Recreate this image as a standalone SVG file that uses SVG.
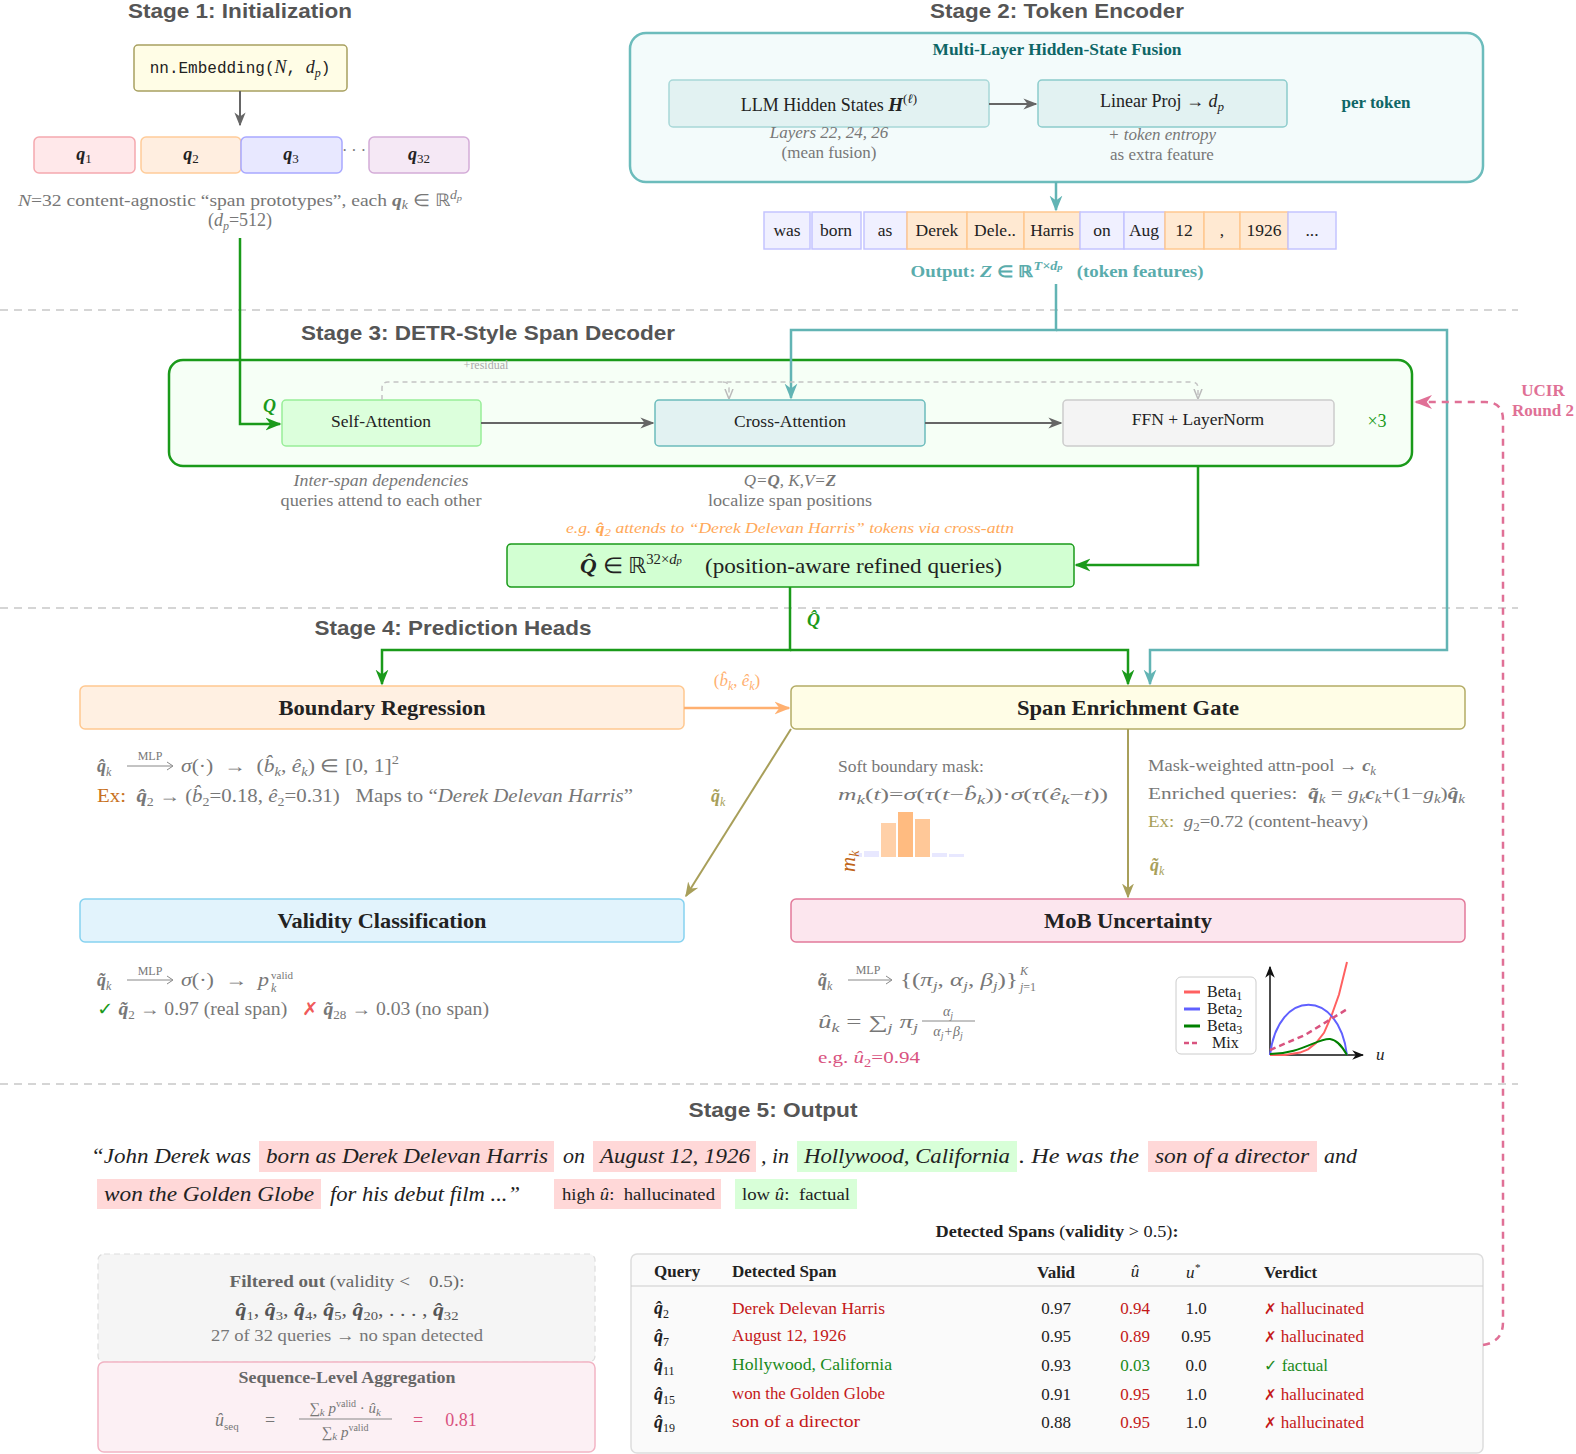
<svg xmlns="http://www.w3.org/2000/svg" width="1576" height="1454" viewBox="0 0 1576 1454">
<style>
.title{font-family:"Liberation Sans",Arial,sans-serif;font-weight:bold;font-size:21px;fill:#555;text-anchor:middle}
.s{font-family:"Liberation Serif","Times New Roman",serif}
.g{fill:#777}
.dk{fill:#222}
.c{text-anchor:middle}
.it{font-style:italic}
.b{font-weight:bold}
.bi{font-weight:bold;font-style:italic}
.sym{font-family:"DejaVu Sans",sans-serif}
.sep{stroke:#c8c8c8;stroke-width:1.5;stroke-dasharray:8,6;fill:none}
.gray{stroke:#666;stroke-width:2;fill:none}
.grn{stroke:#1a9a1a;stroke-width:2.5;fill:none}
.teal{stroke:#62b4b4;stroke-width:2.5;fill:none}
.olv{stroke:#a89f5a;stroke-width:2;fill:none}
.org{stroke:#ffb070;stroke-width:2.5;fill:none}
.pnk{stroke:#e07096;stroke-width:2.5;stroke-dasharray:7,6;fill:none}
.res{stroke:#c4c4c4;stroke-width:1.5;stroke-dasharray:5,4;fill:none}
</style>
<defs>
<marker id="mGray" markerUnits="userSpaceOnUse" viewBox="0 0 10 10" refX="9" refY="5" markerWidth="14" markerHeight="14" orient="auto"><path d="M0,1 L10,5 L0,9 L3,5 z" fill="#666"/></marker>
<marker id="mGrn" markerUnits="userSpaceOnUse" viewBox="0 0 10 10" refX="9" refY="5" markerWidth="16" markerHeight="16" orient="auto"><path d="M0,1 L10,5 L0,9 L3,5 z" fill="#1a9a1a"/></marker>
<marker id="mTeal" markerUnits="userSpaceOnUse" viewBox="0 0 10 10" refX="9" refY="5" markerWidth="16" markerHeight="16" orient="auto"><path d="M0,1 L10,5 L0,9 L3,5 z" fill="#62b4b4"/></marker>
<marker id="mOlv" markerUnits="userSpaceOnUse" viewBox="0 0 10 10" refX="9" refY="5" markerWidth="15" markerHeight="15" orient="auto"><path d="M0,1 L10,5 L0,9 L3,5 z" fill="#a89f5a"/></marker>
<marker id="mOrg" markerUnits="userSpaceOnUse" viewBox="0 0 10 10" refX="9" refY="5" markerWidth="16" markerHeight="16" orient="auto"><path d="M0,1 L10,5 L0,9 L3,5 z" fill="#ffb070"/></marker>
<marker id="mPnk" markerUnits="userSpaceOnUse" viewBox="0 0 10 10" refX="9" refY="5" markerWidth="18" markerHeight="18" orient="auto"><path d="M0,1 L10,5 L0,9 L3,5 z" fill="#e07096"/></marker>
<marker id="mRes" markerUnits="userSpaceOnUse" viewBox="0 0 10 10" refX="9" refY="5" markerWidth="10" markerHeight="10" orient="auto"><path d="M0,1 L10,5 L0,9" fill="none" stroke="#bbb" stroke-width="1.5"/></marker>
<marker id="mBlk" markerUnits="userSpaceOnUse" viewBox="0 0 10 10" refX="9" refY="5" markerWidth="12" markerHeight="12" orient="auto"><path d="M0,1 L10,5 L0,9 L3,5 z" fill="#111"/></marker>
</defs>
<rect width="1576" height="1454" fill="#fff"/>

<g id="separators">
<line class="sep" x1="0" y1="310" x2="1518" y2="310"/>
<line class="sep" x1="0" y1="608" x2="1518" y2="608"/>
<line class="sep" x1="0" y1="1084" x2="1518" y2="1084"/>
</g>

<g id="titles">
<text class="title" x="240" y="18" textLength="224" lengthAdjust="spacingAndGlyphs">Stage 1: Initialization</text>
<text class="title" x="1057" y="18" textLength="254" lengthAdjust="spacingAndGlyphs">Stage 2: Token Encoder</text>
<text class="title" x="488" y="340" textLength="374" lengthAdjust="spacingAndGlyphs">Stage 3: DETR-Style Span Decoder</text>
<text class="title" x="453" y="635" textLength="277" lengthAdjust="spacingAndGlyphs">Stage 4: Prediction Heads</text>
<text class="title" x="773" y="1117" textLength="169" lengthAdjust="spacingAndGlyphs">Stage 5: Output</text>
</g>

<!-- Stage 1 -->
<g id="embedding">
<rect x="134" y="45" width="213" height="46" rx="4" fill="#fffde6" stroke="#a8a060" stroke-width="1.5"/>
<text x="240" y="73" class="c" font-family="Liberation Mono,monospace" font-size="16" fill="#222">nn.Embedding(<tspan class="s it" font-size="18">N</tspan>, <tspan class="s it" font-size="18">d</tspan><tspan class="s it" font-size="12" baseline-shift="-4">p</tspan>)</text>
</g>
<g id="q1"><rect x="34" y="137" width="101" height="36" rx="5" fill="#ffe8ea" stroke="#f5a8ae" stroke-width="1.5"/><text x="84" y="160" class="s c dk"><tspan class="bi" font-size="18">q</tspan><tspan font-size="13" baseline-shift="-3">1</tspan></text></g>
<g id="q2"><rect x="141" y="137" width="100" height="36" rx="5" fill="#ffeee0" stroke="#ffcc99" stroke-width="1.5"/><text x="191" y="160" class="s c dk"><tspan class="bi" font-size="18">q</tspan><tspan font-size="13" baseline-shift="-3">2</tspan></text></g>
<g id="q3"><rect x="241" y="137" width="101" height="36" rx="5" fill="#e8e8ff" stroke="#a8a8ff" stroke-width="1.5"/><text x="291" y="160" class="s c dk"><tspan class="bi" font-size="18">q</tspan><tspan font-size="13" baseline-shift="-3">3</tspan></text></g>
<text x="354" y="156" class="s c g" font-size="16">· · ·</text>
<g id="q32"><rect x="369" y="137" width="100" height="36" rx="5" fill="#f5e8f5" stroke="#d4acd8" stroke-width="1.5"/><text x="419" y="160" class="s c dk"><tspan class="bi" font-size="18">q</tspan><tspan font-size="13" baseline-shift="-3">32</tspan></text></g>
<g id="s1caption">
<text x="240" y="206" class="s c g" font-size="17" textLength="444" lengthAdjust="spacingAndGlyphs"><tspan class="it">N</tspan>=32 content-agnostic “span prototypes”, each <tspan class="bi">q</tspan><tspan class="it" font-size="12" baseline-shift="-3">k</tspan> ∈ ℝ<tspan class="it" font-size="12" baseline-shift="7">d</tspan><tspan class="it" font-size="9" baseline-shift="5">p</tspan></text>
<text x="240" y="226" class="s c g" font-size="18">(<tspan class="it">d</tspan><tspan class="it" font-size="12" baseline-shift="-4">p</tspan>=512)</text>
</g>

<!-- Stage 2 -->
<g id="encoder">
<rect x="630" y="33" width="853" height="149" rx="16" fill="#f3fbfb" stroke="#6cbcbc" stroke-width="2.5"/>
<text x="1057" y="55" class="s c b" font-size="16" fill="#0e6666" textLength="249" lengthAdjust="spacingAndGlyphs">Multi-Layer Hidden-State Fusion</text>
<text x="1376" y="108" class="s c b" font-size="17" fill="#0e6666">per token</text>
</g>
<g id="llm">
<rect x="669" y="80" width="320" height="47" rx="4" fill="#e2f2f2" stroke="#a8d8d8" stroke-width="1.5"/>
<text x="829" y="111" class="s c dk" font-size="18">LLM Hidden States <tspan class="bi" font-size="19">H</tspan><tspan font-size="13" baseline-shift="8">(<tspan class="it">ℓ</tspan>)</tspan></text>
<text x="829" y="138" class="s c g it" font-size="17">Layers 22, 24, 26</text>
<text x="829" y="158" class="s c g" font-size="17">(mean fusion)</text>
</g>
<g id="linproj">
<rect x="1038" y="80" width="249" height="47" rx="4" fill="#e2f2f2" stroke="#8ccccc" stroke-width="1.5"/>
<text x="1162" y="107" class="s c dk" font-size="18">Linear Proj → <tspan class="it" font-size="18">d</tspan><tspan class="it" font-size="13" baseline-shift="-4">p</tspan></text>
<text x="1162" y="140" class="s c g it" font-size="17">+ token entropy</text>
<text x="1162" y="160" class="s c g" font-size="17">as extra feature</text>
</g>
<g id="tokens" font-family="Liberation Serif,serif" font-size="17.5" fill="#222" text-anchor="middle">
<rect x="764" y="212" width="46" height="37" fill="#f0f0ff" stroke="#c4c4ff" stroke-width="1.5"/><text x="787" y="236">was</text>
<rect x="812" y="212" width="49" height="37" fill="#f0f0ff" stroke="#c4c4ff" stroke-width="1.5"/><text x="836" y="236">born</text>
<rect x="864" y="212" width="43" height="37" fill="#f0f0ff" stroke="#c4c4ff" stroke-width="1.5"/><text x="885" y="236">as</text>
<rect x="907" y="212" width="60" height="37" fill="#ffe9d2" stroke="#ffc890" stroke-width="1.5"/><text x="937" y="236">Derek</text>
<rect x="967" y="212" width="57" height="37" fill="#ffe9d2" stroke="#ffc890" stroke-width="1.5"/><text x="995" y="236">Dele..</text>
<rect x="1024" y="212" width="56" height="37" fill="#ffe9d2" stroke="#ffc890" stroke-width="1.5"/><text x="1052" y="236">Harris</text>
<rect x="1080" y="212" width="44" height="37" fill="#f0f0ff" stroke="#c4c4ff" stroke-width="1.5"/><text x="1102" y="236">on</text>
<rect x="1124" y="212" width="41" height="37" fill="#f0f0ff" stroke="#c4c4ff" stroke-width="1.5"/><text x="1144" y="236">Aug</text>
<rect x="1165" y="212" width="39" height="37" fill="#ffe9d2" stroke="#ffc890" stroke-width="1.5"/><text x="1184" y="236">12</text>
<rect x="1204" y="212" width="36" height="37" fill="#ffe9d2" stroke="#ffc890" stroke-width="1.5"/><text x="1222" y="236">,</text>
<rect x="1240" y="212" width="48" height="37" fill="#ffe9d2" stroke="#ffc890" stroke-width="1.5"/><text x="1264" y="236">1926</text>
<rect x="1288" y="212" width="48" height="37" fill="#f0f0ff" stroke="#c4c4ff" stroke-width="1.5"/><text x="1312" y="236">...</text>
</g>
<text x="1057" y="277" class="s c b" font-size="16" fill="#5aacac" textLength="293" lengthAdjust="spacingAndGlyphs" xml:space="preserve">Output: <tspan class="bi" font-size="17">Z</tspan> ∈ ℝ<tspan class="it" font-size="12" baseline-shift="7">T×d<tspan font-size="9">p</tspan></tspan>   (token features)</text>

<!-- Stage 3 -->
<g id="decoder">
<rect x="169" y="360" width="1243" height="106" rx="14" fill="#f6fff6" stroke="#1a9a1a" stroke-width="2.5"/>
<text x="486" y="369" class="s c" font-size="12" fill="#aaa">+residual</text>
<text x="1377" y="427" class="s c" font-size="18" fill="#1a9a1a">×3</text>
</g>
<g id="selfattn">
<rect x="282" y="400" width="199" height="46" rx="4" fill="#dcffdc" stroke="#98ee98" stroke-width="1.5"/>
<text x="381" y="427" class="s c dk" font-size="17.5">Self-Attention</text>
<text x="381" y="486" class="s c g it" font-size="17" textLength="175" lengthAdjust="spacingAndGlyphs">Inter-span dependencies</text>
<text x="381" y="506" class="s c g" font-size="17" textLength="201" lengthAdjust="spacingAndGlyphs">queries attend to each other</text>
</g>
<g id="crossattn">
<rect x="655" y="400" width="270" height="46" rx="4" fill="#e2f2f2" stroke="#6cbcbc" stroke-width="1.5"/>
<text x="790" y="427" class="s c dk" font-size="17.5">Cross-Attention</text>
<text x="790" y="486" class="s c g it" font-size="17">Q=<tspan class="bi">Q</tspan>, K,V=<tspan class="bi">Z</tspan></text>
<text x="790" y="506" class="s c g" font-size="17" textLength="164" lengthAdjust="spacingAndGlyphs">localize span positions</text>
</g>
<g id="ffn">
<rect x="1063" y="400" width="271" height="46" rx="4" fill="#f4f4f4" stroke="#ccc" stroke-width="1.5"/>
<text x="1198" y="425" class="s c dk" font-size="17.5">FFN + LayerNorm</text>
</g>
<text x="790" y="533" class="s c it" font-size="15" fill="#ffa858" textLength="448" lengthAdjust="spacingAndGlyphs">e.g. <tspan class="b">q̂</tspan><tspan font-size="11" baseline-shift="-3">2</tspan> attends to “Derek Delevan Harris” tokens via cross-attn</text>
<g id="qhat">
<rect x="507" y="544" width="567" height="43" rx="4" fill="#d2ffd2" stroke="#1a9a1a" stroke-width="1.5"/>
<text x="791" y="573" class="s c dk" font-size="22" textLength="422" lengthAdjust="spacingAndGlyphs" xml:space="preserve"><tspan class="bi">Q̂</tspan> ∈ ℝ<tspan font-size="14" baseline-shift="9">32×<tspan class="it">d</tspan><tspan class="it" font-size="10">p</tspan></tspan>    (position-aware refined queries)</text>
</g>

<!-- Stage 4 -->
<g id="boundary">
<rect x="80" y="686" width="604" height="43" rx="5" fill="#fff0e2" stroke="#ffc890" stroke-width="1.5"/>
<text x="382" y="715" class="s c b dk" font-size="22" textLength="207" lengthAdjust="spacingAndGlyphs">Boundary Regression</text>
<text x="97" y="772" class="s g" font-size="18"><tspan class="bi">q̂</tspan><tspan class="it" font-size="12" baseline-shift="-4">k</tspan></text>
<text x="150" y="760" class="s c g" font-size="12">MLP</text>
<line x1="127" y1="766" x2="172" y2="766" stroke="#888" stroke-width="1"/><path d="M167,762 L173,766 L167,770" fill="none" stroke="#888" stroke-width="1"/>
<text x="181" y="772" class="s g" font-size="18" textLength="218" lengthAdjust="spacingAndGlyphs" xml:space="preserve"><tspan class="it">σ</tspan>(·)  →  (<tspan class="it">b̂</tspan><tspan class="it" font-size="12" baseline-shift="-4">k</tspan>, <tspan class="it">ê</tspan><tspan class="it" font-size="12" baseline-shift="-4">k</tspan>) ∈ [0, 1]<tspan font-size="12" baseline-shift="8">2</tspan></text>
<text x="97" y="802" class="s g" font-size="18" textLength="536" lengthAdjust="spacingAndGlyphs" xml:space="preserve"><tspan fill="#c87020">Ex:</tspan>  <tspan class="bi">q̂</tspan><tspan font-size="12" baseline-shift="-4">2</tspan> → (<tspan class="it">b̂</tspan><tspan font-size="12" baseline-shift="-4">2</tspan>=0.18, <tspan class="it">ê</tspan><tspan font-size="12" baseline-shift="-4">2</tspan>=0.31)   Maps to “<tspan class="it">Derek Delevan Harris</tspan>”</text>
</g>
<g id="seg">
<rect x="791" y="686" width="674" height="43" rx="5" fill="#fffde6" stroke="#b4ac66" stroke-width="1.5"/>
<text x="1128" y="715" class="s c b dk" font-size="22" textLength="222" lengthAdjust="spacingAndGlyphs">Span Enrichment Gate</text>
<text x="838" y="772" class="s g" font-size="17.5">Soft boundary mask:</text>
<text x="838" y="800" class="s g" font-size="16" textLength="270" lengthAdjust="spacingAndGlyphs"><tspan class="it">m</tspan><tspan class="it" font-size="12" baseline-shift="-4">k</tspan>(<tspan class="it">t</tspan>)=<tspan class="it">σ</tspan>(<tspan class="it">τ</tspan>(<tspan class="it">t</tspan>−<tspan class="it">b̂</tspan><tspan class="it" font-size="12" baseline-shift="-4">k</tspan>))·<tspan class="it">σ</tspan>(<tspan class="it">τ</tspan>(<tspan class="it">ê</tspan><tspan class="it" font-size="12" baseline-shift="-4">k</tspan>−<tspan class="it">t</tspan>))</text>
<g id="maskbars">
<rect x="856" y="853" width="6" height="4" fill="#e8e8ff"/>
<rect x="864" y="851" width="15" height="6" fill="#e8e8ff"/>
<rect x="881" y="823" width="15" height="34" fill="#ffd0a8"/>
<rect x="898" y="812" width="15" height="45" fill="#ffbb80"/>
<rect x="915" y="819" width="15" height="38" fill="#ffc898"/>
<rect x="932" y="853" width="15" height="4" fill="#e8e8ff"/>
<rect x="949" y="854" width="15" height="3" fill="#e8e8ff"/>
<text transform="translate(855,872) rotate(-90)" class="s it" font-size="21" fill="#c06418">m<tspan font-size="14" baseline-shift="-4">k</tspan></text>
</g>
<text x="1148" y="771" class="s g" font-size="17.5" textLength="228" lengthAdjust="spacingAndGlyphs">Mask-weighted attn-pool → <tspan class="bi">c</tspan><tspan class="it" font-size="12" baseline-shift="-4">k</tspan></text>
<text x="1148" y="799" class="s g" font-size="17" textLength="317" lengthAdjust="spacingAndGlyphs" xml:space="preserve">Enriched queries:  <tspan class="bi">q̃</tspan><tspan class="it" font-size="12" baseline-shift="-4">k</tspan> = <tspan class="it">g</tspan><tspan class="it" font-size="12" baseline-shift="-4">k</tspan><tspan class="bi">c</tspan><tspan class="it" font-size="12" baseline-shift="-4">k</tspan>+(1−<tspan class="it">g</tspan><tspan class="it" font-size="12" baseline-shift="-4">k</tspan>)<tspan class="bi">q̂</tspan><tspan class="it" font-size="12" baseline-shift="-4">k</tspan></text>
<text x="1148" y="827" class="s g" font-size="17.5" textLength="220" lengthAdjust="spacingAndGlyphs" xml:space="preserve"><tspan fill="#a89f5a">Ex:</tspan>  <tspan class="it">g</tspan><tspan font-size="12" baseline-shift="-4">2</tspan>=0.72 (content-heavy)</text>
</g>
<g id="validity">
<rect x="80" y="899" width="604" height="43" rx="5" fill="#e2f3fc" stroke="#86d2f0" stroke-width="1.5"/>
<text x="382" y="928" class="s c b dk" font-size="22" textLength="209" lengthAdjust="spacingAndGlyphs">Validity Classification</text>
<text x="97" y="986" class="s g" font-size="18"><tspan class="bi">q̃</tspan><tspan class="it" font-size="12" baseline-shift="-4">k</tspan></text>
<text x="150" y="975" class="s c g" font-size="12">MLP</text>
<line x1="127" y1="980" x2="172" y2="980" stroke="#888" stroke-width="1"/><path d="M167,976 L173,980 L167,984" fill="none" stroke="#888" stroke-width="1"/>
<text x="181" y="986" class="s g" font-size="18" textLength="88" lengthAdjust="spacingAndGlyphs" xml:space="preserve"><tspan class="it">σ</tspan>(·)  →  <tspan class="it">p</tspan></text>
<text x="271" y="979" class="s g" font-size="11">valid</text>
<text x="271" y="992" class="s g it" font-size="12">k</text>
<text x="97" y="1015" class="s g" font-size="18" textLength="392" lengthAdjust="spacingAndGlyphs" xml:space="preserve"><tspan class="sym" fill="#1a9a1a">✓</tspan> <tspan class="bi">q̃</tspan><tspan font-size="12" baseline-shift="-4">2</tspan> → 0.97 (real span)   <tspan class="sym" fill="#f05a5a">✗</tspan> <tspan class="bi">q̃</tspan><tspan font-size="12" baseline-shift="-4">28</tspan> → 0.03 (no span)</text>
</g>
<g id="mob">
<rect x="791" y="899" width="674" height="43" rx="5" fill="#fce6ee" stroke="#e27a9a" stroke-width="1.5"/>
<text x="1128" y="928" class="s c b dk" font-size="22" textLength="168" lengthAdjust="spacingAndGlyphs">MoB Uncertainty</text>
<text x="818" y="986" class="s g" font-size="18"><tspan class="bi">q̃</tspan><tspan class="it" font-size="12" baseline-shift="-4">k</tspan></text>
<text x="868" y="974" class="s c g" font-size="12">MLP</text>
<line x1="848" y1="980" x2="891" y2="980" stroke="#888" stroke-width="1"/><path d="M886,976 L892,980 L886,984" fill="none" stroke="#888" stroke-width="1"/>
<text x="900" y="986" class="s g" font-size="18" textLength="118" lengthAdjust="spacingAndGlyphs">{(<tspan class="it">π</tspan><tspan class="it" font-size="12" baseline-shift="-4">j</tspan>, <tspan class="it">α</tspan><tspan class="it" font-size="12" baseline-shift="-4">j</tspan>, <tspan class="it">β</tspan><tspan class="it" font-size="12" baseline-shift="-4">j</tspan>)}</text>
<text x="1020" y="975" class="s g it" font-size="12">K</text>
<text x="1020" y="991" class="s g" font-size="12"><tspan class="it">j</tspan>=1</text>
<text x="818" y="1028" class="s g" font-size="18" textLength="100" lengthAdjust="spacingAndGlyphs" xml:space="preserve"><tspan class="it">û</tspan><tspan class="it" font-size="12" baseline-shift="-4">k</tspan> = ∑<tspan class="it" font-size="12" baseline-shift="-4">j</tspan> <tspan class="it">π</tspan><tspan class="it" font-size="12" baseline-shift="-4">j</tspan></text>
<text x="948" y="1016" class="s c g it" font-size="14">α<tspan font-size="10" baseline-shift="-3">j</tspan></text>
<line x1="922" y1="1021" x2="975" y2="1021" stroke="#888" stroke-width="1"/>
<text x="948" y="1036" class="s c g it" font-size="14">α<tspan font-size="10" baseline-shift="-3">j</tspan>+β<tspan font-size="10" baseline-shift="-3">j</tspan></text>
<text x="818" y="1063" class="s" font-size="17.5" fill="#d9537f" textLength="102" lengthAdjust="spacingAndGlyphs">e.g. <tspan class="it">û</tspan><tspan font-size="12" baseline-shift="-4">2</tspan>=0.94</text>
<g id="mobplot">
<rect x="1176" y="977" width="80" height="77" rx="5" fill="#fff" stroke="#ccc" stroke-width="1"/>
<line x1="1184" y1="992" x2="1200" y2="992" stroke="#ff6060" stroke-width="3"/>
<line x1="1184" y1="1009" x2="1200" y2="1009" stroke="#6060ff" stroke-width="3"/>
<line x1="1184" y1="1026" x2="1200" y2="1026" stroke="#008000" stroke-width="3"/>
<line x1="1184" y1="1043" x2="1200" y2="1043" stroke="#d9537f" stroke-width="2.5" stroke-dasharray="5,3"/>
<g font-family="Liberation Serif,serif" font-size="16" fill="#222">
<text x="1207" y="997">Beta<tspan font-size="12" baseline-shift="-3">1</tspan></text>
<text x="1207" y="1014">Beta<tspan font-size="12" baseline-shift="-3">2</tspan></text>
<text x="1207" y="1031">Beta<tspan font-size="12" baseline-shift="-3">3</tspan></text>
<text x="1212" y="1048">Mix</text>
</g>
<line x1="1270" y1="1055" x2="1270" y2="967" stroke="#111" stroke-width="1.5" marker-end="url(#mBlk)"/>
<line x1="1270" y1="1055" x2="1363" y2="1055" stroke="#111" stroke-width="1.5" marker-end="url(#mBlk)"/>
<text x="1376" y="1060" class="s it" font-size="17" fill="#222">u</text>
<polyline points="1270,1055 1285,1054.9 1300,1052.6 1308,1049.3 1316,1043 1324,1032.8 1331,1017 1339,994.5 1347,962" fill="none" stroke="#ff6060" stroke-width="2"/>
<path d="M1270,1055 C1278,988 1339,988 1347,1055" fill="none" stroke="#6060ff" stroke-width="2"/>
<path d="M1270,1054 C1300,1054 1318,1038 1330,1039 C1338,1040 1343,1048 1347,1055" fill="none" stroke="#008000" stroke-width="2"/>
<path d="M1270,1050 L1305,1035 L1349,1008" fill="none" stroke="#d9537f" stroke-width="2.5" stroke-dasharray="6,4"/>
</g>
</g>

<!-- Stage 5 -->
<g id="sentence" font-family="Liberation Serif,serif" font-style="italic" font-size="22" fill="#222">
<rect x="259" y="1141" width="295" height="31" fill="#ffd8d8"/>
<rect x="593" y="1141" width="163" height="31" fill="#ffd8d8"/>
<rect x="797" y="1141" width="220" height="31" fill="#d8ffd8"/>
<rect x="1148" y="1141" width="169" height="31" fill="#ffd8d8"/>
<rect x="97" y="1179" width="224" height="30" fill="#ffd8d8"/>
<text x="91" y="1163" textLength="160" lengthAdjust="spacingAndGlyphs">“John Derek was</text>
<text x="266" y="1163" textLength="282" lengthAdjust="spacingAndGlyphs">born as Derek Delevan Harris</text>
<text x="563" y="1163">on</text>
<text x="600" y="1163" textLength="150" lengthAdjust="spacingAndGlyphs">August 12, 1926</text>
<text x="761" y="1163">, in</text>
<text x="804" y="1163" textLength="206" lengthAdjust="spacingAndGlyphs">Hollywood, California</text>
<text x="1019" y="1163" textLength="120" lengthAdjust="spacingAndGlyphs">. He was the</text>
<text x="1155" y="1163" textLength="154" lengthAdjust="spacingAndGlyphs">son of a director</text>
<text x="1324" y="1163">and</text>
<text x="104" y="1201" textLength="210" lengthAdjust="spacingAndGlyphs">won the Golden Globe</text>
<text x="330" y="1201" textLength="190" lengthAdjust="spacingAndGlyphs">for his debut film ...”</text>
</g>
<g id="legend-high"><rect x="554" y="1179" width="167" height="30" fill="#ffd8d8"/><text x="562" y="1200" class="s dk" font-size="17" textLength="153" lengthAdjust="spacingAndGlyphs" xml:space="preserve">high <tspan class="it">û</tspan>:  hallucinated</text></g>
<g id="legend-low"><rect x="735" y="1179" width="122" height="30" fill="#d8ffd8"/><text x="742" y="1200" class="s dk" font-size="17" textLength="108" lengthAdjust="spacingAndGlyphs" xml:space="preserve">low <tspan class="it">û</tspan>:  factual</text></g>

<g id="filtered">
<rect x="98" y="1254" width="497" height="108" rx="6" fill="#f5f5f5" stroke="#ddd" stroke-width="1.2" stroke-dasharray="6,4"/>
<text x="347" y="1287" class="s c" font-size="17" fill="#666" textLength="235" lengthAdjust="spacingAndGlyphs" xml:space="preserve"><tspan class="b">Filtered out</tspan> (validity &lt;    0.5):</text>
<text x="347" y="1316" class="s c" font-size="18" fill="#555" textLength="223" lengthAdjust="spacingAndGlyphs"><tspan class="bi">q̂</tspan><tspan font-size="12" baseline-shift="-4">1</tspan>, <tspan class="bi">q̂</tspan><tspan font-size="12" baseline-shift="-4">3</tspan>, <tspan class="bi">q̂</tspan><tspan font-size="12" baseline-shift="-4">4</tspan>, <tspan class="bi">q̂</tspan><tspan font-size="12" baseline-shift="-4">5</tspan>, <tspan class="bi">q̂</tspan><tspan font-size="12" baseline-shift="-4">20</tspan>, . . . , <tspan class="bi">q̂</tspan><tspan font-size="12" baseline-shift="-4">32</tspan></text>
<text x="347" y="1341" class="s c g" font-size="17.5" textLength="272" lengthAdjust="spacingAndGlyphs">27 of 32 queries → no span detected</text>
</g>
<g id="aggregation">
<rect x="98" y="1362" width="497" height="90" rx="6" fill="#fcf0f4" stroke="#f2b4c4" stroke-width="1.5"/>
<text x="347" y="1383" class="s c b" font-size="17.5" fill="#666" textLength="217" lengthAdjust="spacingAndGlyphs">Sequence-Level Aggregation</text>
<text x="215" y="1426" class="s g" font-size="18"><tspan class="it">û</tspan><tspan font-size="11" baseline-shift="-4">seq</tspan></text>
<text x="270" y="1426" class="s c g" font-size="18">=</text>
<text x="345" y="1413" class="s c g" font-size="15">∑<tspan class="it" font-size="11" baseline-shift="-3">k</tspan> <tspan class="it">p</tspan><tspan font-size="10" baseline-shift="6">valid</tspan> · <tspan class="it">û</tspan><tspan class="it" font-size="11" baseline-shift="-3">k</tspan></text>
<line x1="299" y1="1419" x2="392" y2="1419" stroke="#888" stroke-width="1"/>
<text x="345" y="1437" class="s c g" font-size="15">∑<tspan class="it" font-size="11" baseline-shift="-3">k</tspan> <tspan class="it">p</tspan><tspan font-size="10" baseline-shift="6">valid</tspan></text>
<text x="418" y="1426" class="s c" font-size="18" fill="#d9537f">=</text>
<text x="461" y="1426" class="s c" font-size="18" fill="#d9537f">0.81</text>
</g>

<text x="1057" y="1237" class="s c dk" font-size="17" textLength="243" lengthAdjust="spacingAndGlyphs"><tspan class="b">Detected Spans</tspan> (<tspan class="b">validity</tspan> &gt; 0.5)<tspan class="b">:</tspan></text>
<g id="table" font-family="Liberation Serif,serif" font-size="17" fill="#222">
<rect x="631" y="1254" width="852" height="199" rx="6" fill="#fafafa" stroke="#ddd" stroke-width="1.5"/>
<line x1="631" y1="1286" x2="1483" y2="1286" stroke="#ccc" stroke-width="1"/>
<g font-weight="bold">
<text x="654" y="1277">Query</text>
<text x="732" y="1277">Detected Span</text>
<text x="1056" y="1278" text-anchor="middle">Valid</text>
<text x="1264" y="1278">Verdict</text>
</g>
<text x="1135" y="1277" text-anchor="middle" font-style="italic">û</text>
<text x="1193" y="1278" text-anchor="middle" font-style="italic">u<tspan font-size="11" baseline-shift="7">*</tspan></text>
<g font-size="18">
<text x="654" y="1314"><tspan class="bi">q̂</tspan><tspan font-size="12" baseline-shift="-4">2</tspan></text>
<text x="654" y="1342"><tspan class="bi">q̂</tspan><tspan font-size="12" baseline-shift="-4">7</tspan></text>
<text x="654" y="1371"><tspan class="bi">q̂</tspan><tspan font-size="12" baseline-shift="-4">11</tspan></text>
<text x="654" y="1400"><tspan class="bi">q̂</tspan><tspan font-size="12" baseline-shift="-4">15</tspan></text>
<text x="654" y="1428"><tspan class="bi">q̂</tspan><tspan font-size="12" baseline-shift="-4">19</tspan></text>
</g>
<g fill="#c41818">
<text x="732" y="1314" textLength="153" lengthAdjust="spacingAndGlyphs">Derek Delevan Harris</text>
<text x="732" y="1341" textLength="114" lengthAdjust="spacingAndGlyphs">August 12, 1926</text>
<text x="732" y="1399" textLength="153" lengthAdjust="spacingAndGlyphs">won the Golden Globe</text>
<text x="732" y="1427" textLength="128" lengthAdjust="spacingAndGlyphs">son of a director</text>
</g>
<text x="732" y="1370" fill="#1a8a1a" textLength="160" lengthAdjust="spacingAndGlyphs">Hollywood, California</text>
<g text-anchor="middle">
<text x="1056" y="1314">0.97</text><text x="1056" y="1342">0.95</text><text x="1056" y="1371">0.93</text><text x="1056" y="1400">0.91</text><text x="1056" y="1428">0.88</text>
<text x="1135" y="1314" fill="#c41818">0.94</text><text x="1135" y="1342" fill="#c41818">0.89</text><text x="1135" y="1371" fill="#1a8a1a">0.03</text><text x="1135" y="1400" fill="#c41818">0.95</text><text x="1135" y="1428" fill="#c41818">0.95</text>
<text x="1196" y="1314">1.0</text><text x="1196" y="1342">0.95</text><text x="1196" y="1371">0.0</text><text x="1196" y="1400">1.0</text><text x="1196" y="1428">1.0</text>
</g>
<g fill="#c41818">
<text x="1264" y="1314"><tspan font-family="DejaVu Sans,sans-serif" font-size="15">✗</tspan> hallucinated</text>
<text x="1264" y="1342"><tspan font-family="DejaVu Sans,sans-serif" font-size="15">✗</tspan> hallucinated</text>
<text x="1264" y="1400"><tspan font-family="DejaVu Sans,sans-serif" font-size="15">✗</tspan> hallucinated</text>
<text x="1264" y="1428"><tspan font-family="DejaVu Sans,sans-serif" font-size="15">✗</tspan> hallucinated</text>
</g>
<text x="1264" y="1371" fill="#1a8a1a"><tspan font-family="DejaVu Sans,sans-serif" font-size="16">✓</tspan> factual</text>
</g>

<g id="connectors">
<line class="gray" x1="240" y1="91" x2="240" y2="125" marker-end="url(#mGray)"/>
<polyline class="grn" points="240,238 240,424 280,424" marker-end="url(#mGrn)"/>
<text x="263" y="412" class="s bi" font-size="18" fill="#1a9a1a">Q</text>
<line class="gray" x1="989" y1="104" x2="1036" y2="104" marker-end="url(#mGray)"/>
<line class="teal" x1="1056" y1="182" x2="1056" y2="210" marker-end="url(#mTeal)"/>
<polyline class="teal" points="1056,284 1056,330 791,330 791,398" marker-end="url(#mTeal)"/>
<polyline class="teal" points="1056,330 1447,330 1447,650 1150,650 1150,684" marker-end="url(#mTeal)"/>
<path class="res" d="M382,400 L382,388 Q382,382 388,382 L1192,382 Q1198,382 1198,388 L1198,398" marker-end="url(#mRes)"/>
<path class="res" d="M723,382 Q729,382 729,388 L729,398" marker-end="url(#mRes)"/>
<line class="gray" x1="481" y1="423" x2="653" y2="423" marker-end="url(#mGray)"/>
<line class="gray" x1="925" y1="423" x2="1061" y2="423" marker-end="url(#mGray)"/>
<polyline class="grn" points="1198,466 1198,565 1076,565" marker-end="url(#mGrn)"/>
<polyline class="grn" points="790,587 790,650 382,650 382,684" marker-end="url(#mGrn)"/>
<polyline class="grn" points="790,650 1128,650 1128,684" marker-end="url(#mGrn)"/>
<text x="807" y="626" class="s bi" font-size="18" fill="#1a9a1a">Q̂</text>
<line class="org" x1="684" y1="708" x2="789" y2="708" marker-end="url(#mOrg)"/>
<text x="737" y="686" class="s c" font-size="17" fill="#ffb070">(<tspan class="it">b̂</tspan><tspan class="it" font-size="12" baseline-shift="-4">k</tspan>, <tspan class="it">ê</tspan><tspan class="it" font-size="12" baseline-shift="-4">k</tspan>)</text>
<line class="olv" x1="791" y1="729" x2="686" y2="896" marker-end="url(#mOlv)"/>
<text x="711" y="802" class="s" font-size="18" fill="#a89f5a"><tspan class="bi">q̃</tspan><tspan class="it" font-size="12" baseline-shift="-4">k</tspan></text>
<line class="olv" x1="1128" y1="729" x2="1128" y2="897" marker-end="url(#mOlv)"/>
<text x="1150" y="871" class="s" font-size="18" fill="#a89f5a"><tspan class="bi">q̃</tspan><tspan class="it" font-size="12" baseline-shift="-4">k</tspan></text>
<path class="pnk" d="M1483,1345 Q1503,1342 1503,1322 L1503,420 Q1503,402 1485,402 L1416,402" marker-end="url(#mPnk)"/>
<text x="1543" y="396" class="s c b" font-size="17" fill="#e07096">UCIR</text>
<text x="1543" y="416" class="s c b" font-size="17" fill="#e07096">Round 2</text>
</g>
</svg>
